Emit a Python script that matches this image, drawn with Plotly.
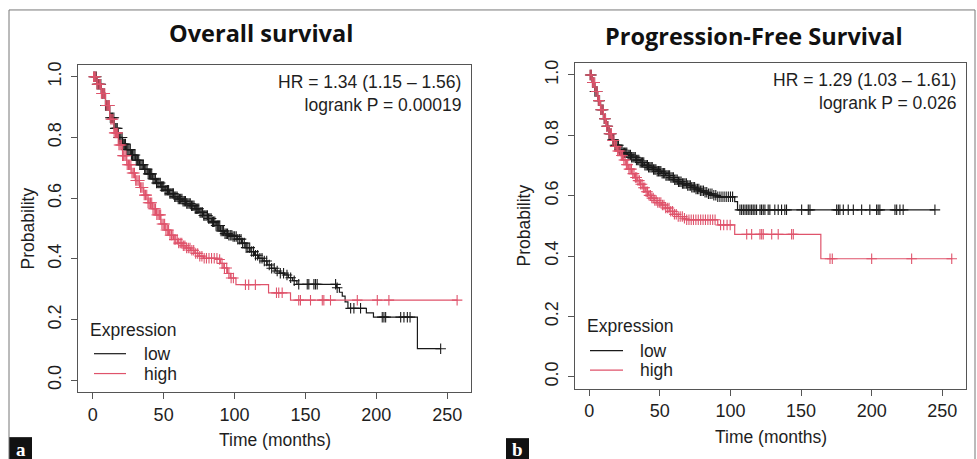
import numpy as np
import plotly.graph_objects as go

W, H = 977, 459

# ---------------- Panel a: Overall survival ----------------
os_low_t = [0, 3, 6, 9, 12, 15, 18, 21, 24, 27, 30, 33, 36, 39, 42, 45, 48, 51, 54, 57,
            60, 63, 66, 69, 72, 75, 78, 81, 84, 87, 90, 93, 96, 99, 102, 105, 108, 111, 114,
            117, 120, 123, 126, 129, 132, 135, 138, 141, 144, 172, 174, 176, 178, 180, 193,
            198, 229, 245.4]
os_low_s = [1.0, 0.975, 0.945, 0.905, 0.865, 0.83, 0.80, 0.778, 0.76, 0.742, 0.725, 0.71,
            0.695, 0.68, 0.663, 0.65, 0.638, 0.626, 0.615, 0.605, 0.597, 0.59, 0.582, 0.575,
            0.565, 0.553, 0.543, 0.533, 0.522, 0.51, 0.492, 0.483, 0.478, 0.474, 0.465, 0.452,
            0.437, 0.424, 0.412, 0.402, 0.393, 0.38, 0.369, 0.36, 0.353, 0.347, 0.338, 0.328,
            0.316, 0.305, 0.29, 0.277, 0.258, 0.237, 0.222, 0.208, 0.104, 0.104]
os_low_cens = [0.8, 1.6, 2.5, 3.1, 4.0, 4.9, 5.7, 6.6, 7.2, 8.1, 9.0, 9.8, 10.7, 11.5, 12.4,
               13.3, 14.0, 14.9, 15.8, 16.5, 17.3, 18.2, 19.0, 19.8, 20.7, 21.5, 22.3, 23.1,
               24.0, 24.8, 25.6, 26.5, 27.3, 28.1, 29.0, 29.8, 30.7, 31.5, 32.4, 33.2, 34.0,
               34.9, 35.7, 36.6, 37.4, 38.3, 39.1, 40.0, 40.8, 41.6, 42.5, 43.3, 44.2, 45.0,
               45.9, 46.7, 47.6, 48.4, 49.3, 50.1, 51.0, 51.8, 52.7, 53.5, 54.4, 55.2, 56.1,
               56.9, 57.8, 58.6, 59.5, 60.3, 61.2, 62.0, 62.9, 63.7, 64.6, 65.4, 66.3, 67.1,
               68.0, 68.8, 69.7, 70.5, 71.4, 72.3, 73.1, 74.0, 74.8, 75.7, 76.5, 77.4, 78.3,
               79.1, 80.0, 80.9, 81.7, 82.6, 83.5, 84.4, 85.2, 86.1, 87.0, 87.9, 88.8, 89.6,
               90.5, 91.4, 92.3, 93.3, 94.2, 95.1, 96.0, 97.0, 98.1, 99.0, 100.1, 101.2, 102.3,
               103.4, 104.6, 105.7, 106.9, 108.2, 109.4, 110.7, 112.1, 113.4, 114.8, 116.3,
               117.9, 119.4, 121.0, 122.7, 124.5, 126.2, 128.0, 130.1, 132.3, 134.6, 137.0,
               139.6, 142.1, 145.3, 151.3, 152.4, 156.0, 157.1, 158.3, 171.3, 172.4, 181.9,
               184.2, 188.9, 204.2, 205.4, 206.6, 217.2, 219.5, 221.9, 223.8, 245.4]

os_high_t = [0, 3, 6, 9, 12, 15, 18, 21, 24, 27, 30, 33, 36, 39, 42, 45, 48, 51, 54, 57, 60,
             63, 66, 69, 72, 75, 78, 88, 90, 92, 95, 97, 101, 124, 139.5, 257]
os_high_s = [1.0, 0.975, 0.945, 0.905, 0.86, 0.815, 0.775, 0.74, 0.71, 0.683, 0.658, 0.635,
             0.61, 0.585, 0.565, 0.545, 0.515, 0.495, 0.478, 0.464, 0.452, 0.443, 0.436, 0.428,
             0.418, 0.409, 0.402, 0.398, 0.385, 0.37, 0.352, 0.337, 0.315, 0.288, 0.264, 0.264]
os_high_cens = [0.6, 1.3, 2.2, 3.0, 3.7, 4.6, 5.4, 6.1, 7.0, 7.8, 8.5, 9.4, 10.2, 11.0, 11.8,
                12.7, 13.5, 14.3, 15.1, 16.0, 16.8, 17.6, 18.5, 19.3, 20.1, 21.0, 21.8, 22.7,
                23.5, 24.3, 25.2, 26.0, 26.9, 27.7, 28.6, 29.4, 30.3, 31.1, 32.0, 32.9, 33.7,
                34.6, 35.5, 36.3, 37.2, 38.1, 39.0, 39.8, 40.7, 41.6, 42.5, 43.4, 44.3, 45.2,
                46.1, 47.0, 47.9, 48.8, 49.7, 50.7, 51.6, 52.6, 53.5, 54.5, 55.5, 56.5, 57.5,
                58.5, 59.6, 60.6, 61.7, 62.8, 63.9, 65.0, 66.2, 67.4, 68.6, 69.9, 71.2, 72.6,
                74.0, 75.5, 77.0, 78.6, 80.2, 82.0, 83.8, 85.7, 87.6, 89.5, 91.2, 92.9, 94.5,
                96.0, 97.6, 99.2, 107.7, 110.0, 114.7, 129.6, 131.2, 133.6, 145.3, 146.5, 153.6,
                161.9, 163.0, 167.7, 186.6, 200.7, 208.9, 257.0]

# ---------------- Panel b: Progression-free survival ----------------
pfs_low_t = [0, 2, 4, 6, 8, 10, 12, 14, 16, 18, 21, 24, 27, 30, 33, 36, 39, 42, 45, 48, 51,
             54, 57, 60, 63, 66, 69, 72, 75, 78, 81, 84, 87, 91, 103, 105, 244.8]
pfs_low_s = [1.0, 0.975, 0.945, 0.915, 0.885, 0.855, 0.83, 0.805, 0.785, 0.767, 0.752, 0.742,
             0.735, 0.727, 0.718, 0.71, 0.701, 0.694, 0.687, 0.681, 0.674, 0.667, 0.66, 0.653,
             0.646, 0.64, 0.634, 0.628, 0.622, 0.616, 0.611, 0.606, 0.601, 0.596, 0.58, 0.553,
             0.553]
pfs_low_cens = [0.7, 1.5, 2.3, 3.2, 4.0, 4.8, 5.6, 6.5, 7.3, 8.1, 9.0, 9.8, 10.6, 11.5, 12.3,
                13.1, 14.0, 14.8, 15.6, 16.5, 17.3, 18.2, 19.0, 19.8, 20.7, 21.5, 22.4, 23.2,
                24.1, 24.9, 25.8, 26.6, 27.5, 28.3, 29.2, 30.0, 30.9, 31.7, 32.6, 33.4, 34.3,
                35.1, 36.0, 36.9, 37.7, 38.6, 39.4, 40.3, 41.2, 42.0, 42.9, 43.8, 44.6, 45.5,
                46.4, 47.2, 48.1, 49.0, 49.9, 50.7, 51.6, 52.5, 53.4, 54.3, 55.1, 56.0, 56.9,
                57.8, 58.7, 59.6, 60.5, 61.4, 62.3, 63.2, 64.1, 65.0, 66.0, 66.9, 67.8, 68.8,
                69.7, 70.7, 71.6, 72.6, 73.6, 74.6, 75.6, 76.6, 77.6, 78.7, 79.8, 80.9, 82.0,
                83.2, 84.4, 85.6, 86.9, 88.2, 89.6, 91.0, 92.5, 94.0, 95.5, 97.0, 98.5, 100.0,
                101.5, 106.7, 107.9, 109.1, 110.3, 111.5, 112.6, 113.8, 115.0, 116.1, 117.3,
                118.5, 120.9, 122.0, 123.2, 124.4, 126.7, 127.9, 131.4, 133.8, 136.2, 138.5,
                139.7, 150.4, 155.1, 156.3, 175.2, 176.4, 177.5, 179.9, 183.4, 187.0, 192.9,
                198.7, 203.5, 204.6, 205.8, 216.5, 217.7, 220.0, 222.3, 244.8]

pfs_high_t = [0, 2, 4, 6, 8, 10, 12, 14, 16, 18, 20, 22, 24, 26, 28, 30, 32, 34, 36, 38, 40,
              42, 44, 46, 48, 51, 54, 57, 60, 63, 66, 69, 91, 103, 164, 257]
pfs_high_s = [1.0, 0.975, 0.945, 0.915, 0.885, 0.855, 0.83, 0.805, 0.783, 0.763, 0.748, 0.733,
              0.718, 0.703, 0.688, 0.673, 0.66, 0.65, 0.638, 0.626, 0.613, 0.601, 0.592, 0.584,
              0.577, 0.569, 0.559, 0.548, 0.538, 0.531, 0.525, 0.52, 0.503, 0.472, 0.391, 0.391]
pfs_high_cens = [0.6, 1.4, 2.2, 3.1, 3.9, 4.7, 5.6, 6.4, 7.2, 8.1, 8.9, 9.8, 10.6, 11.5, 12.3,
                 13.2, 14.0, 14.9, 15.7, 16.6, 17.5, 18.3, 19.2, 20.1, 20.9, 21.8, 22.7, 23.6,
                 24.5, 25.4, 26.3, 27.2, 28.1, 29.0, 29.9, 30.8, 31.7, 32.7, 33.6, 34.5, 35.5,
                 36.4, 37.4, 38.3, 39.3, 40.3, 41.3, 42.3, 43.3, 44.3, 45.3, 46.4, 47.4, 48.5,
                 49.6, 50.7, 51.8, 52.9, 54.1, 55.3, 56.5, 57.7, 59.0, 60.3, 61.6, 63.0, 64.4,
                 65.9, 67.4, 69.0, 70.6, 72.2, 73.8, 75.5, 77.2, 78.9, 80.6, 82.3, 84.0, 85.7,
                 87.4, 89.1, 93.0, 95.2, 97.6, 99.8, 111.5, 115.0, 120.9, 122.1, 123.2, 129.2,
                 133.8, 143.3, 144.5, 170.5, 172.1, 200.0, 228.3, 256.7]

titles = ["Overall survival", "Progression-Free Survival"]
hr_texts = ["HR = 1.34 (1.15 \u2013 1.56)<br>logrank P = 0.00019",
            "HR = 1.29 (1.03 \u2013 1.61)<br>logrank P = 0.026"]
group_labels = ["low", "high"]
legend_title = "Expression"
x_title = "Time (months)"
y_title = "Probability"
panel_tags = ["a", "b"]
x_ticks = [0, 50, 100, 150, 200, 250]
y_ticks = [0.0, 0.2, 0.4, 0.6, 0.8, 1.0]
y_ticktext = ["0.0", "0.2", "0.4", "0.6", "0.8", "1.0"]

COL_LOW = "#1a1a1a"
COL_HIGH = "#DF536B"
FONT = "Liberation Sans, Arial, sans-serif"
TXT = "#1e1e1e"


def step_at(ts, ss, c):
    ts = np.asarray(ts, float)
    ss = np.asarray(ss, float)
    idx = np.searchsorted(ts, np.asarray(c, float), side="right") - 1
    return ss[np.clip(idx, 0, len(ss) - 1)]


def px(x):
    return x / W


def py(y):
    return 1 - y / H


fig = go.Figure()

panels = [
    dict(xa="x", ya="y", curves=[(os_low_t, os_low_s, os_low_cens, COL_LOW),
                                 (os_high_t, os_high_s, os_high_cens, COL_HIGH)]),
    dict(xa="x2", ya="y2", curves=[(pfs_low_t, pfs_low_s, pfs_low_cens, COL_LOW),
                                   (pfs_high_t, pfs_high_s, pfs_high_cens, COL_HIGH)]),
]

for p in panels:
    for (t, s, cens, col) in p["curves"]:
        fig.add_trace(go.Scatter(x=t, y=s, mode="lines", line=dict(color=col, width=1.2, shape="hv"),
                                 xaxis=p["xa"], yaxis=p["ya"], showlegend=False, hoverinfo="skip"))
        fig.add_trace(go.Scatter(x=cens, y=step_at(t, s, cens), mode="markers",
                                 marker=dict(symbol="cross-thin", size=7.5, color=col,
                                             line=dict(color=col, width=1.1)),
                                 xaxis=p["xa"], yaxis=p["ya"], showlegend=False, hoverinfo="skip"))

# pixel geometry of the two plot boxes
boxes = [dict(l=78, r=471, t=62, b=392, xr=[-10.4, 266.8]),
         dict(l=575, r=966, t=60.3, b=388.3, xr=[-10.1, 266.8])]

axis_common = dict(showgrid=False, zeroline=False, showline=True, mirror=True, linecolor="#555",
                   linewidth=1, ticks="outside", ticklen=6, tickcolor="#555", tickwidth=1,
                   tickfont=dict(family=FONT, size=18, color=TXT))

for i, bx in enumerate(boxes):
    sfx = "" if i == 0 else str(i + 1)
    fig.update_layout(**{
        "xaxis" + sfx: dict(domain=[px(bx["l"]), px(bx["r"])], range=bx["xr"], tickvals=x_ticks,
                            anchor="y" + sfx, ticklabelstandoff=0, **axis_common),
        "yaxis" + sfx: dict(domain=[py(bx["b"]), py(bx["t"])], range=[-0.04, 1.04], tickvals=y_ticks,
                            ticktext=y_ticktext, tickangle=-90, anchor="x" + sfx,
                            ticklabelstandoff=3, **axis_common),
    })

ann = []
shapes = []
# layout per panel (pixel positions)
lay = [dict(title=(261, 30), hr=(463, 91), xt=(274.5, 440), yt=(28, 227),
            exp=(88, 329), low_y=353, high_y=373, line=(94, 126), lab_x=142, tag=(9, 437, 32)),
       dict(title=(753.5, 33), hr=(957.7, 89), xt=(770.5, 437), yt=(524, 224),
            exp=(585, 325), low_y=350, high_y=369.5, line=(590, 623), lab_x=638, tag=(506, 438, 529))]

for i, L in enumerate(lay):
    ann.append(dict(x=px(L["title"][0]), y=py(L["title"][1]), xref="paper", yref="paper",
                    text="<b>" + titles[i] + "</b>", showarrow=False, xanchor="center", yanchor="middle",
                    font=dict(family="Open Sans, sans-serif", size=23.5, color="#111")))
    ann.append(dict(x=px(L["hr"][0]), y=py(L["hr"][1]), xref="paper", yref="paper", text=hr_texts[i],
                    showarrow=False, xanchor="right", yanchor="middle", align="right",
                    font=dict(family=FONT, size=17.5, color=TXT)))
    ann.append(dict(x=px(L["xt"][0]), y=py(L["xt"][1]), xref="paper", yref="paper", text=x_title,
                    showarrow=False, xanchor="center", yanchor="middle",
                    font=dict(family=FONT, size=17.5, color=TXT)))
    ann.append(dict(x=px(L["yt"][0]), y=py(L["yt"][1]), xref="paper", yref="paper", text=y_title,
                    showarrow=False, xanchor="center", yanchor="middle", textangle=-90,
                    font=dict(family=FONT, size=17.5, color=TXT)))
    ann.append(dict(x=px(L["exp"][0]), y=py(L["exp"][1]), xref="paper", yref="paper", text=legend_title,
                    showarrow=False, xanchor="left", yanchor="middle",
                    font=dict(family=FONT, size=17.5, color=TXT)))
    for lab, yy, col in [(group_labels[0], L["low_y"], COL_LOW), (group_labels[1], L["high_y"], COL_HIGH)]:
        shapes.append(dict(type="line", xref="paper", yref="paper", x0=px(L["line"][0]), x1=px(L["line"][1]),
                           y0=py(yy), y1=py(yy), line=dict(color=col, width=1.2)))
        ann.append(dict(x=px(L["lab_x"]), y=py(yy), xref="paper", yref="paper", text=lab,
                        showarrow=False, xanchor="left", yanchor="middle",
                        font=dict(family=FONT, size=17.5, color=TXT)))
    x0, y0, x1 = L["tag"]
    shapes.append(dict(type="rect", xref="paper", yref="paper", x0=px(x0), x1=px(x1), y0=py(y0), y1=0,
                       fillcolor="#111", line=dict(width=0)))
    ann.append(dict(x=px((x0 + x1) / 2), y=0, xref="paper", yref="paper", yshift=-3,
                    text="<b>" + panel_tags[i] + "</b>", showarrow=False, xanchor="center", yanchor="bottom",
                    font=dict(family="Liberation Serif, DejaVu Serif, serif", size=19, color="white")))

# outer frame
for (xa, ya, xb, yb) in [(9, 7, 975, 7), (9, 7, 9, 459), (975, 7, 975, 459)]:
    shapes.append(dict(type="line", xref="paper", yref="paper", x0=px(xa), y0=py(ya), x1=px(xb), y1=py(yb),
                       line=dict(color="#777", width=1)))

fig.update_layout(width=W, height=H, margin=dict(l=0, r=0, t=0, b=0), paper_bgcolor="white",
                  plot_bgcolor="white", annotations=ann, shapes=shapes, showlegend=False)

fig.write_html("out.html", config={"displayModeBar": False},
               post_script="document.body.style.margin='0';document.body.style.overflow='hidden';")
